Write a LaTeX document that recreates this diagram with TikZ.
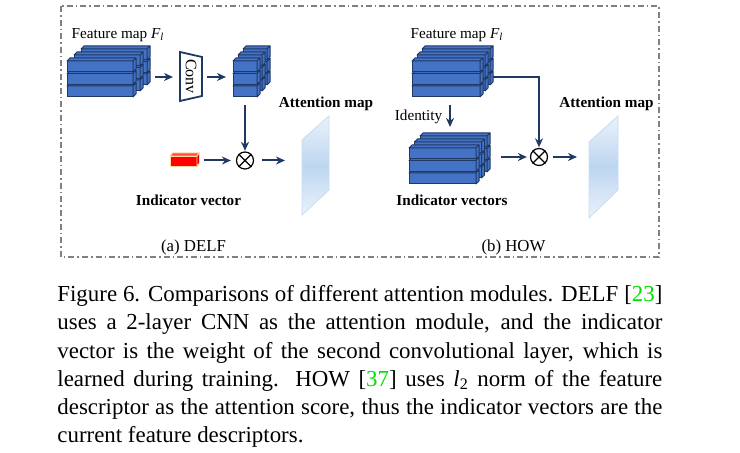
\documentclass[tikz,border=0pt]{standalone}
\usepackage{fontspec}
\setmainfont{Liberation Serif}
\usetikzlibrary{arrows.meta}
\definecolor{fmfill}{HTML}{4472C4}
\definecolor{fmedge}{HTML}{1F3864}
\definecolor{navy}{HTML}{1F3864}
\definecolor{framegray}{HTML}{808080}
\definecolor{citegreen}{HTML}{00E000}
\definecolor{attlight}{HTML}{EAF2FB}
\definecolor{attmid}{HTML}{BDD6F0}
\definecolor{attedge}{HTML}{C6DCF3}
\definecolor{redfront}{HTML}{FF0000}
\definecolor{redtop}{HTML}{FF4A3A}
\definecolor{redside}{HTML}{D80000}
\definecolor{rededge}{HTML}{FFD9A0}
% cuboid: x, y (top of front face), width, height, depth, style
\newcommand\cub[6]{%
  \filldraw[#6] (#1,#2) rectangle ++(#3,#4);
  \filldraw[#6] (#1,#2) -- ++(#5,-#5) -- ++(#3,0) -- ++(-#5,#5) -- cycle;
  \filldraw[#6] (#1+#3,#2) -- ++(#5,-#5) -- ++(0,#4) -- ++(-#5,#5) -- cycle;
}
% stack of 3x3 bars: x, y (front top), width, layer x-offset
\newcommand\fmstack[4]{%
  \foreach \k in {2,1,0}{\foreach \r in {2,1,0}{%
    \cub{#1+\k*#4}{#2+\r*12.5-\k*6}{#3}{11}{3}{fm}
  }}%
}
\begin{document}
\begin{tikzpicture}[x=0.5pt,y=-0.5pt,
  fm/.style={fill=fmfill, draw=fmedge, line width=0.5pt, line join=round},
  lbl/.style={font=\fontsize{7.6}{9}\selectfont, inner sep=0, anchor=base},
  blbl/.style={lbl, font=\fontsize{7.6}{9}\selectfont\bfseries},
  sublbl/.style={lbl, font=\fontsize{8.4}{10}\selectfont},
  frame/.style={draw=framegray, line width=0.8pt, dash pattern=on 3pt off 1.5pt on 0.8pt off 1.5pt},
  convbox/.style={draw=fmedge, line width=0.9pt, fill=white},
  otimes/.style={circle, draw=black, line width=0.6pt, minimum size=8.5pt, inner sep=0, fill=white},
  arr/.style={draw=navy, line width=1pt, -{Stealth[length=4.5pt,width=4pt]}},
  attmap/.style={draw=attedge, line width=0.4pt, top color=attlight, bottom color=attlight, middle color=attmid},
]
\useasboundingbox (0,0) rectangle (740,453);
\draw[frame] (61,6) rectangle (659,257);

% ---------------- (a) DELF ----------------
\fmstack{67}{61}{66}{7}
\coordinate (fmAe) at (150,77);
\node[lbl] (fmAt) at (118,39) {Feature map {\itshape F}\textsubscript{\itshape l}};

\draw[convbox] (180,52) -- (202,57) -- (202,96) -- (180,101) -- cycle;
\node[inner sep=0, rotate=-90, font=\fontsize{8}{9}\selectfont] (conv) at (191,76.5) {Conv};
\coordinate (convW) at (180,77);
\coordinate (convE) at (202,77);

\fmstack{233}{61}{24}{5}
\coordinate (smW) at (233,77);
\coordinate (smS) at (245,98);

\node[otimes] (ot1) at (245,160.5) {};
\draw[line width=0.6pt] (ot1.45) -- (ot1.225) (ot1.135) -- (ot1.315);

% red indicator vector
\filldraw[fill=redfront, draw=rededge, line width=0.4pt] (170,156) rectangle (197,166);
\filldraw[fill=redtop, draw=rededge, line width=0.4pt] (170,156) -- (172.5,153) -- (199.5,153) -- (197,156) -- cycle;
\filldraw[fill=redside, draw=rededge, line width=0.4pt] (197,156) -- (199.5,153) -- (199.5,163) -- (197,166) -- cycle;
\coordinate (redE) at (199.5,160.5);

% attention map (a)
\path[attmap] (302,140) -- (329,116) -- (329,190) -- (302,215) -- cycle;
\coordinate (att1W) at (302,160.5);
\node[blbl] (att1t) at (326,108) {Attention map};

\node[blbl] (ivA) at (188.5,206) {Indicator vector};
\node[sublbl] (subA) at (193.5,252) {(a) DELF};

\draw[arr, shorten <=2.5pt, shorten >=3.5pt] (fmAe) -- (convW);
\draw[arr, shorten <=2.5pt, shorten >=3.5pt] (convE) -- (smW);
\draw[arr, shorten <=3.5pt, shorten >=0.3pt] (smS) -- (ot1.north);
\draw[arr, shorten <=2pt, shorten >=2.5pt] (redE) -- (ot1.west);
\draw[arr, shorten <=4pt, shorten >=8.5pt] (ot1.east) -- (att1W);

% ---------------- (b) HOW ----------------
\fmstack{412}{61}{68}{5}
\coordinate (fmBe) at (493,77);
\coordinate (fmBs) at (450,98);
\node[lbl] (fmBt) at (457,39) {Feature map {\itshape F}\textsubscript{\itshape l}};

\node[lbl] (idt) at (418.5,121) {Identity};

\fmstack{409}{148}{67}{5.5}
\coordinate (ivN) at (450,133);
\coordinate (ivE) at (490,157);
\node[blbl] (ivB) at (452,206) {Indicator vectors};

\node[otimes] (ot2) at (539,157) {};
\draw[line width=0.6pt] (ot2.45) -- (ot2.225) (ot2.135) -- (ot2.315);

\path[attmap] (589,142) -- (618,116) -- (618,190) -- (589,218) -- cycle;
\coordinate (att2W) at (589,157);
\node[blbl] (att2t) at (606.5,108) {Attention map};

\node[sublbl] (subB) at (513.5,252) {(b) HOW};

\draw[arr, shorten >=0.3pt] (fmBe) -| (ot2.north);
\draw[arr, shorten <=3.5pt, shorten >=3pt] (fmBs) -- (ivN);
\draw[arr, shorten <=5.5pt, shorten >=1.5pt] (ivE) -- (ot2.west);
\draw[arr, shorten <=2.3pt, shorten >=6pt] (ot2.east) -- (att2W);

% ---------------- caption ----------------
\node[anchor=base west, text width=302.5pt, align=justify, inner sep=0,
      font=\fontsize{11.45}{14.1}\selectfont] (cap) at (57,301.7)
{Figure 6. Comparisons of different attention modules. DELF [\textcolor{citegreen}{23}]\linebreak
uses a 2-layer CNN as the attention module, and the indicator\linebreak
vector is the weight of the second convolutional layer, which is\linebreak
learned during training. HOW [\textcolor{citegreen}{37}] uses {\itshape l}\textsubscript{2} norm of the feature\linebreak
descriptor as the attention score, thus the indicator vectors are the\linebreak
current feature descriptors.};
\end{tikzpicture}
\end{document}
